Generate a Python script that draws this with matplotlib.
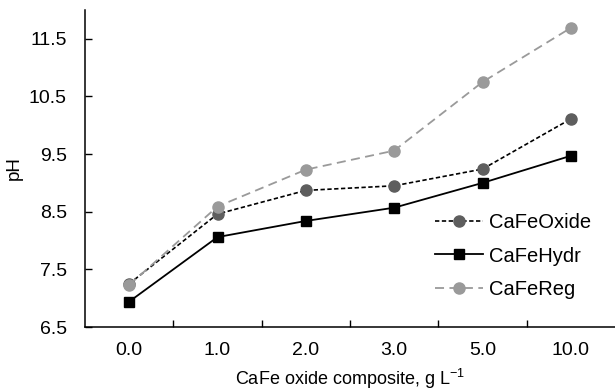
import matplotlib
matplotlib.use("Agg")
import matplotlib.pyplot as plt
import numpy as np

plt.rcParams['font.family'] = ['Liberation Sans', 'DejaVu Sans']
plt.rcParams['mathtext.fontset'] = 'custom'
plt.rcParams['mathtext.rm'] = 'Liberation Sans'

# data
doses = ["0.0", "1.0", "2.0", "3.0", "5.0", "10.0"]
ph_oxide = [7.25, 8.46, 8.87, 8.95, 9.24, 10.11]
ph_hydr = [6.94, 8.06, 8.34, 8.57, 9.00, 9.47]
ph_reg = [7.23, 8.59, 9.23, 9.56, 10.75, 11.69]
yticks = [6.5, 7.5, 8.5, 9.5, 10.5, 11.5]

fig = plt.figure(figsize=(6.15, 3.91), dpi=100)
ax = fig.add_axes([85/615, 64/391, 530/615, 317/391])

x = np.arange(len(doses))

ax.plot(x, ph_oxide, color='black', lw=1.2, dashes=(2.6, 1.5),
        marker='o', ms=8, mfc='#5e5e5e', mec='#5e5e5e', label='CaFeOxide')
ax.plot(x, ph_hydr, color='black', lw=1.3, marker='s', ms=7.5,
        mfc='black', mec='black', label='CaFeHydr')
ax.plot(x, ph_reg, color='#9a9a9a', lw=1.3, dashes=(5, 3),
        marker='o', ms=8, mfc='#9a9a9a', mec='#9a9a9a', label='CaFeReg')

ax.set_xlim(-0.5, len(doses) - 0.5)
ax.set_ylim(6.5, 12.0)
ax.set_xticks(x)
ax.set_xticklabels(doses)
ax.set_xticks(np.arange(0.5, len(doses) - 0.5, 1.0), minor=True)
ax.set_yticks(yticks)
ax.set_yticklabels(["%.1f" % v for v in yticks])

ax.tick_params(axis='x', which='major', length=0, pad=11, labelsize=14)
ax.tick_params(axis='x', which='minor', direction='in', length=5, width=1)
ax.tick_params(axis='y', direction='in', length=5, width=1, pad=13, labelsize=14)

for s in ['top', 'right']:
    ax.spines[s].set_visible(False)
for s in ['left', 'bottom']:
    ax.spines[s].set_linewidth(1.1)

ax.set_xlabel("CaFe oxide composite, g L$^{-1}$", fontsize=13)
ax.xaxis.set_label_coords(0.5, -(367 - 327) / 317)
ax.set_ylabel("pH", fontsize=13.5)
ax.yaxis.set_label_coords(-(85 - 23) / 530, 0.5)

ax.legend(loc='center left', bbox_to_anchor=(435/615, 1 - 256/391),
          bbox_transform=fig.transFigure, frameon=False, fontsize=14.5,
          handlelength=2.4, handletextpad=0.3, labelspacing=0.7,
          borderpad=0, borderaxespad=0, numpoints=1)

fig.savefig("out.png", dpi=100)
